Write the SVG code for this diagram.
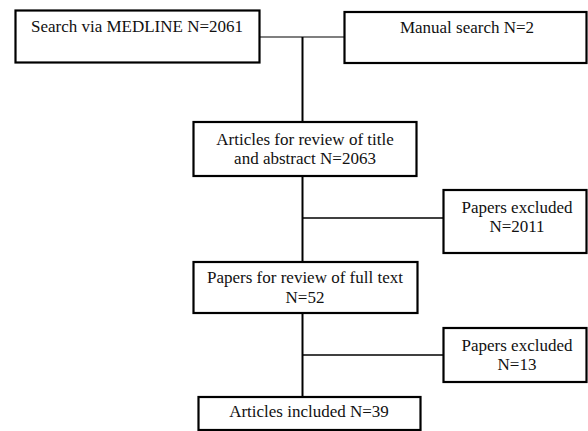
<svg xmlns="http://www.w3.org/2000/svg" width="588" height="431" viewBox="0 0 588 431">
<style>
.box{fill:#fff;stroke:#000;stroke-width:2.2}
.t{font-family:'Liberation Serif','Times New Roman',serif;font-size:17px;fill:#111;text-anchor:middle}
.c{stroke:#000;fill:none}
</style>
<rect width="588" height="431" fill="#fff"/>
<g id="connectors">
<line class="c" x1="260" y1="37" x2="344" y2="37" stroke-width="1.2"/>
<line class="c" x1="302.5" y1="37" x2="302.5" y2="122" stroke-width="2"/>
<line class="c" x1="302.5" y1="176" x2="302.5" y2="262" stroke-width="2"/>
<line class="c" x1="302.5" y1="218" x2="443" y2="218" stroke-width="1.5"/>
<line class="c" x1="302.5" y1="313" x2="302.5" y2="397" stroke-width="2"/>
<line class="c" x1="302.5" y1="355" x2="443" y2="355" stroke-width="1.5"/>
</g>
<g id="n1"><rect class="box" x="15.5" y="10.5" width="244" height="52"/><text class="t" x="137" y="32">Search via MEDLINE N=2061</text></g>
<g id="n2"><rect class="box" x="344.5" y="12" width="242" height="51"/><text class="t" x="467" y="33">Manual search N=2</text></g>
<g id="n3"><rect class="box" x="193.5" y="122" width="223" height="54"/><text class="t" x="305" y="145">Articles for review of title</text><text class="t" x="305" y="164">and abstract N=2063</text></g>
<g id="n4"><rect class="box" x="443.5" y="190" width="143" height="63"/><text class="t" x="517" y="213">Papers excluded</text><text class="t" x="517" y="232">N=2011</text></g>
<g id="n5"><rect class="box" x="193.5" y="262" width="224" height="51"/><text class="t" x="305" y="283">Papers for review of full text</text><text class="t" x="305" y="303">N=52</text></g>
<g id="n6"><rect class="box" x="443.5" y="328" width="143" height="54"/><text class="t" x="517" y="351">Papers excluded</text><text class="t" x="517" y="370">N=13</text></g>
<g id="n7"><rect class="box" x="198.5" y="397" width="222" height="33"/><text class="t" x="309" y="417">Articles included N=39</text></g>
</svg>
